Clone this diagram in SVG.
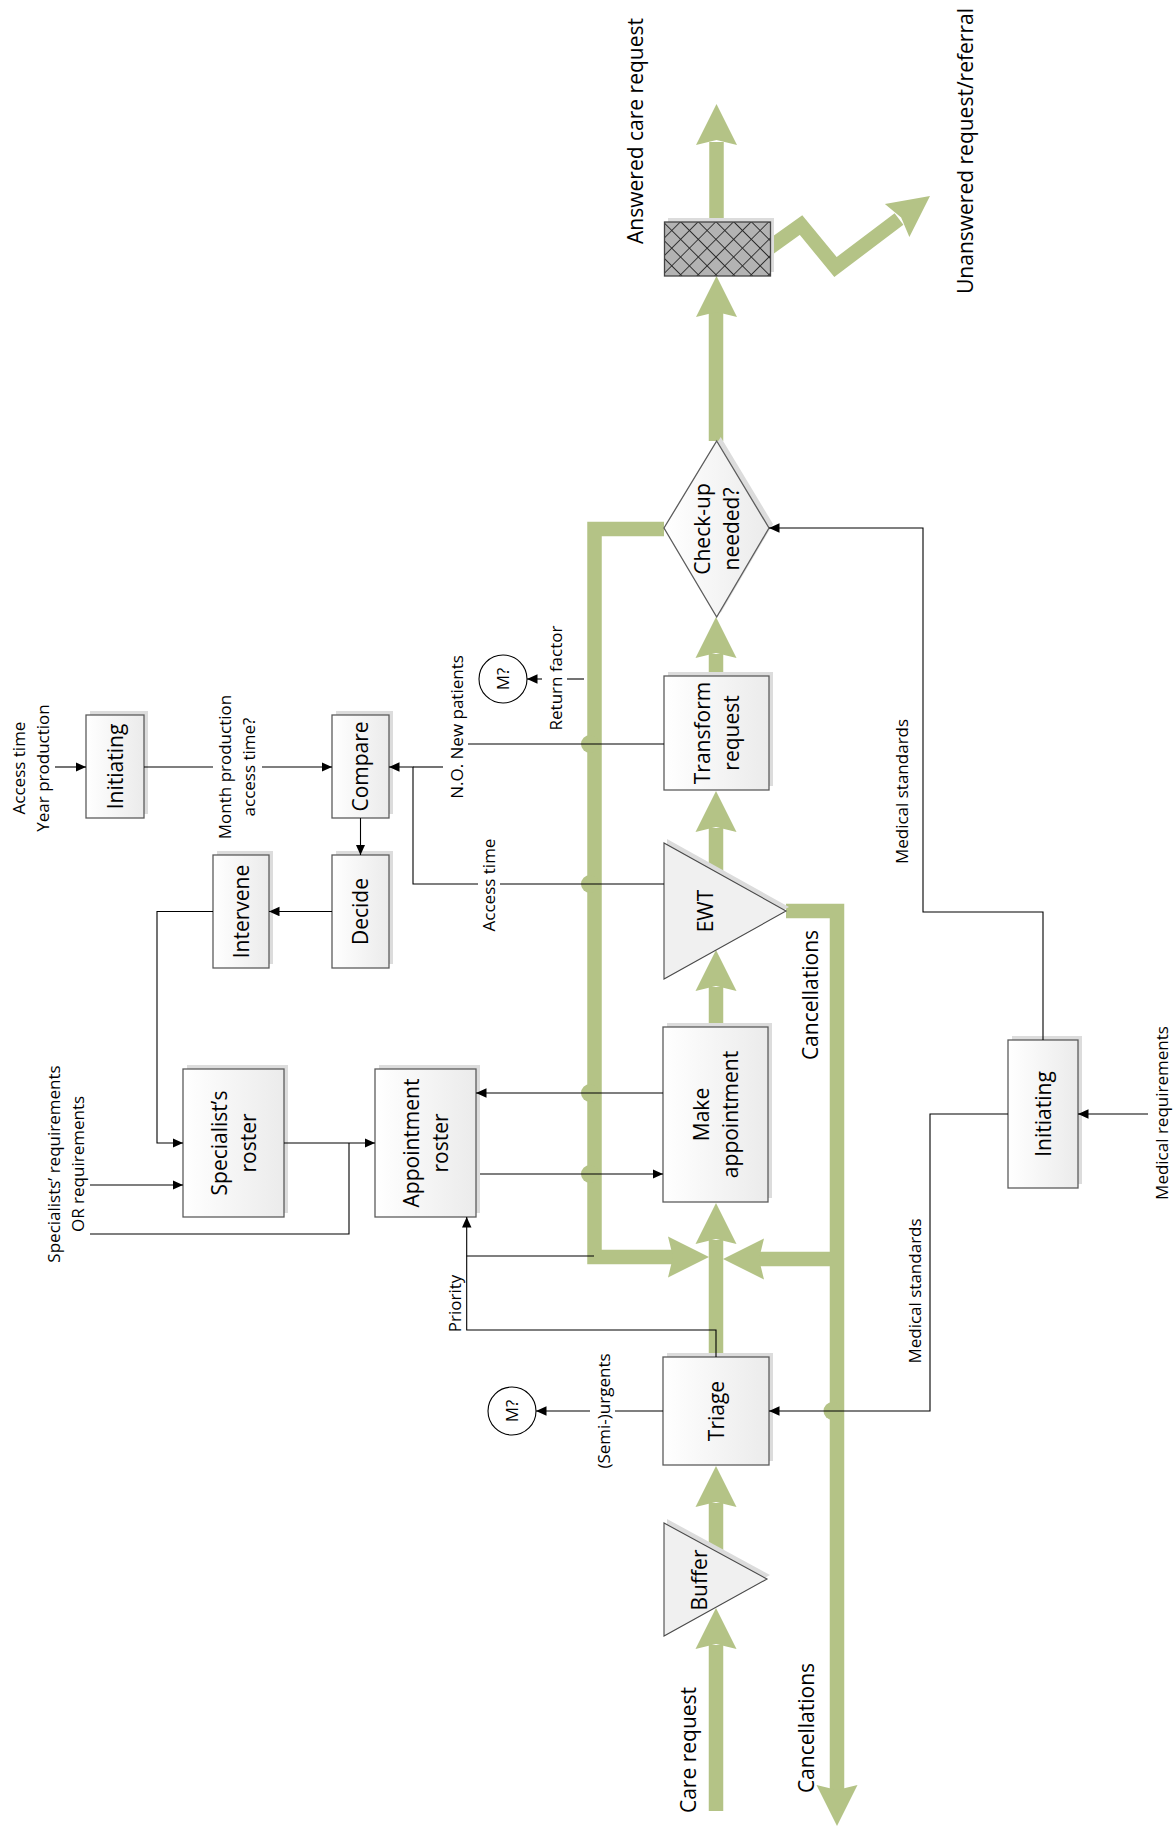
<svg xmlns="http://www.w3.org/2000/svg" width="1176" height="1827" viewBox="0 0 1176 1827">
  <style>
    .box { fill: url(#boxGrad); stroke: #5c5c5c; stroke-width: 1.3; }
    .tri { fill: #f0f0f0; stroke: #4a4a4a; stroke-width: 1.1; }
    .shadow { fill: #dcdcdc; }
    .t { font-family: "Open Sans", "Noto Sans", "DejaVu Sans", sans-serif; fill: #000; text-anchor: middle; }
    .big { font-size: 21px; }
    .sm { font-size: 17px; }
    .flow { fill: none; stroke: #b4c386; stroke-width: 14.5; stroke-linejoin: miter; }
    .head { fill: #b4c386; }
    .bump { fill: #b4c386; }
    .link { fill: none; stroke: #000; stroke-width: 1.1; }
    .arr { marker-end: url(#ah); }
    .circ { fill: #fff; stroke: #000; stroke-width: 1.1; }
  </style>
  <defs>
    <linearGradient id="boxGrad" x1="0" y1="0" x2="1" y2="0">
      <stop offset="0" stop-color="#ffffff"/>
      <stop offset="1" stop-color="#ebebeb"/>
    </linearGradient>
    <marker id="ah" markerUnits="userSpaceOnUse" markerWidth="11" markerHeight="10" refX="10.5" refY="4.75" orient="auto">
      <path d="M0,0 L10.5,4.75 L0,9.5 Z" fill="#000"/>
    </marker>
    <!-- wide flow arrowhead, pointing up, tip at origin -->
    <path id="ga" class="head" d="M0,0 L20.5,41 L0,36 L-20.5,41 Z"/>
    <pattern id="hatch" width="12.5" height="12.5" patternUnits="userSpaceOnUse" patternTransform="rotate(45)">
      <rect width="12.5" height="12.5" fill="#b3b3b3"/>
      <path d="M0,0 H12.5 M0,0 V12.5" stroke="#2b2b2b" stroke-width="1.8"/>
    </pattern>
  </defs>

  <!-- main flows -->
  <g id="flows">
    <!-- care request into buffer -->
    <path class="flow" d="M716,1811 V1645"/>
    <use href="#ga" transform="translate(716,1608)"/>
    <!-- buffer to triage -->
    <path class="flow" d="M716,1552 V1503"/>
    <use href="#ga" transform="translate(716,1466)"/>
    <!-- triage up to make appointment -->
    <path class="flow" d="M716,1357 V1240"/>
    <use href="#ga" transform="translate(716,1203)"/>
    <!-- check-up return loop -->
    <path class="flow" d="M664,529 H594.5 V1257 H690"/>
    <use href="#ga" transform="translate(709,1257) rotate(90)"/>
    <!-- cancellations out of EWT -->
    <path class="flow" d="M786,911 H837 V1792"/>
    <use href="#ga" transform="translate(837,1826) rotate(180)"/>
    <path class="flow" d="M837,1259 H757"/>
    <use href="#ga" transform="translate(723,1259) rotate(-90)"/>
    <!-- make appointment to EWT -->
    <path class="flow" d="M716,1027 V987"/>
    <use href="#ga" transform="translate(716,950)"/>
    <!-- EWT to transform -->
    <path class="flow" d="M716,872 V828"/>
    <use href="#ga" transform="translate(716,791)"/>
    <!-- transform to check-up -->
    <path class="flow" d="M716,676 V654"/>
    <use href="#ga" transform="translate(716,617)"/>
    <!-- check-up to outcome -->
    <path class="flow" d="M716,441 V312"/>
    <use href="#ga" transform="translate(716.5,276)"/>
    <path class="flow" d="M716.5,222 V142"/>
    <use href="#ga" transform="translate(716.5,104)"/>
    <!-- unanswered zigzag -->
    <path class="flow" d="M769,248 L801,225 L835.5,267 L899,219"/>
    <use href="#ga" transform="translate(930,196) rotate(53.3)"/>
    <!-- line jumps -->
    <circle class="bump" cx="590" cy="744" r="9"/>
    <circle class="bump" cx="590" cy="884" r="9"/>
    <circle class="bump" cx="590" cy="1093" r="9"/>
    <circle class="bump" cx="590" cy="1174" r="9"/>
    <circle class="bump" cx="832.5" cy="1411" r="9"/>
  </g>

  <!-- nodes -->
  <g id="initiating-top">
    <rect class="shadow" x="90" y="711" width="58" height="103"/>
    <rect class="box" x="86" y="715" width="58" height="103"/>
    <text class="t big" transform="translate(0,766.5) rotate(-90)"><tspan x="0" y="122.5">Initiating</tspan></text>
  </g>
  <g id="compare">
    <rect class="shadow" x="336" y="711" width="57" height="103"/>
    <rect class="box" x="332" y="715" width="57" height="103"/>
    <text class="t big" transform="translate(0,766.5) rotate(-90)"><tspan x="0" y="368">Compare</tspan></text>
  </g>
  <g id="decide">
    <rect class="shadow" x="336" y="851" width="57" height="113"/>
    <rect class="box" x="332" y="855" width="57" height="113"/>
    <text class="t big" transform="translate(0,911.5) rotate(-90)"><tspan x="0" y="368">Decide</tspan></text>
  </g>
  <g id="intervene">
    <rect class="shadow" x="217" y="851" width="56" height="113"/>
    <rect class="box" x="213" y="855" width="56" height="113"/>
    <text class="t big" transform="translate(0,911.5) rotate(-90)"><tspan x="0" y="248.5">Intervene</tspan></text>
  </g>
  <g id="specialists-roster">
    <rect class="shadow" x="187" y="1065" width="101" height="148"/>
    <rect class="box" x="183" y="1069" width="101" height="148"/>
    <text class="t big" transform="translate(0,1143) rotate(-90)"><tspan x="0" y="226.5">Specialist’s</tspan><tspan x="0" y="255.5">roster</tspan></text>
  </g>
  <g id="appointment-roster">
    <rect class="shadow" x="379" y="1065" width="101" height="148"/>
    <rect class="box" x="375" y="1069" width="101" height="148"/>
    <text class="t big" transform="translate(0,1143) rotate(-90)"><tspan x="0" y="418.5">Appointment</tspan><tspan x="0" y="447.5">roster</tspan></text>
  </g>
  <g id="make-appointment">
    <rect class="shadow" x="667" y="1023" width="105" height="175"/>
    <rect class="box" x="663" y="1027" width="105" height="175"/>
    <text class="t big" transform="translate(0,1114.5) rotate(-90)"><tspan x="0" y="708.5">Make</tspan><tspan x="0" y="737.5">appointment</tspan></text>
  </g>
  <g id="ewt">
    <polygon class="shadow" points="667,839 667,975 789,907"/>
    <polygon class="tri" points="664,843 664,979 786,911"/>
    <text class="t big" transform="translate(0,911) rotate(-90)"><tspan x="0" y="712.5">EWT</tspan></text>
  </g>
  <g id="transform-request">
    <rect class="shadow" x="668" y="672" width="105" height="114"/>
    <rect class="box" x="664" y="676" width="105" height="114"/>
    <text class="t big" transform="translate(0,733) rotate(-90)"><tspan x="0" y="709.5">Transform</tspan><tspan x="0" y="738.5">request</tspan></text>
  </g>
  <g id="check-up">
    <polygon class="shadow" points="720.7,437 773,524 720.7,613 668,524"/>
    <polygon class="box" points="716.7,441 769,528 716.7,617 664,528"/>
    <text class="t big" transform="translate(0,529) rotate(-90)"><tspan x="0" y="709.5">Check-up</tspan><tspan x="0" y="738.5">needed?</tspan></text>
  </g>
  <g id="outcome-store">
    <rect class="shadow" x="668" y="218" width="106" height="54"/>
    <rect x="664.5" y="222" width="106" height="54" fill="url(#hatch)" stroke="#444" stroke-width="1.3"/>
  </g>
  <g id="triage">
    <rect class="shadow" x="667" y="1353" width="106" height="108"/>
    <rect class="box" x="663" y="1357" width="106" height="108"/>
    <text class="t big" transform="translate(0,1411) rotate(-90)"><tspan x="0" y="723.5">Triage</tspan></text>
  </g>
  <g id="buffer">
    <polygon class="shadow" points="667,1519 667,1632 770,1575"/>
    <polygon class="tri" points="664,1523 664,1636 767,1579"/>
    <text class="t big" transform="translate(0,1580) rotate(-90)"><tspan x="0" y="706.5">Buffer</tspan></text>
  </g>
  <g id="initiating-bottom">
    <rect class="shadow" x="1012" y="1036" width="70" height="148"/>
    <rect class="box" x="1008" y="1040" width="70" height="148"/>
    <text class="t big" transform="translate(0,1114) rotate(-90)"><tspan x="0" y="1050.5">Initiating</tspan></text>
  </g>
  <g id="measure-top">
    <circle class="circ" cx="503" cy="679" r="24"/>
    <text class="t sm" transform="translate(0,679) rotate(-90)"><tspan x="0" y="509">M?</tspan></text>
  </g>
  <g id="measure-bottom">
    <circle class="circ" cx="512" cy="1411" r="24"/>
    <text class="t sm" transform="translate(0,1411) rotate(-90)"><tspan x="0" y="518">M?</tspan></text>
  </g>

  <!-- control and information connectors -->
  <g id="connectors">
    <path class="link arr" d="M55,767 H86"/>
    <path class="link" d="M144,767 H213"/>
    <path class="link arr" d="M262,767 H332"/>
    <path class="link arr" d="M360.5,818 V855"/>
    <path class="link arr" d="M332,911.5 H269"/>
    <path class="link arr" d="M213,911.5 H157 V1143 H183"/>
    <path class="link arr" d="M90,1185 H183"/>
    <path class="link" d="M90,1234 H349 V1143"/>
    <path class="link arr" d="M284,1143 H375"/>
    <path class="link arr" d="M663,1093 H476"/>
    <path class="link arr" d="M480,1174 H663"/>
    <path class="link arr" d="M716,1357 V1330 H466.7 V1217"/>
    <path class="link" d="M594,1256 H466.7"/>
    <path class="link" d="M663,1411 H615"/>
    <path class="link arr" d="M590,1411 H536"/>
    <path class="link arr" d="M1008,1114 H930 V1411 H769"/>
    <path class="link arr" d="M1148,1114 H1078"/>
    <path class="link arr" d="M1043,1040 V912 H923 V528 H769"/>
    <path class="link" d="M664,884 H500"/>
    <path class="link arr" d="M478,884 H413 V767 H389"/>
    <path class="link" d="M664,744 H468"/>
    <path class="link" d="M443,767 H413"/>
    <path class="link" d="M584,679 H567"/>
    <path class="link arr" d="M542,679 H527"/>
  </g>

  <!-- labels -->
  <g id="labels">
    <text class="t sm" transform="translate(0,768) rotate(-90)"><tspan x="0" y="25">Access time</tspan><tspan x="0" y="49">Year production</tspan></text>
    <text class="t sm" transform="translate(0,767) rotate(-90)"><tspan x="0" y="231">Month production</tspan><tspan x="0" y="255">access time?</tspan></text>
    <text class="t sm" transform="translate(0,1164) rotate(-90)"><tspan x="0" y="60">Specialists’ requirements</tspan><tspan x="0" y="84">OR requirements</tspan></text>
    <text class="t sm" transform="translate(0,727) rotate(-90)"><tspan x="0" y="463">N.O. New patients</tspan></text>
    <text class="t sm" transform="translate(0,678) rotate(-90)"><tspan x="0" y="562">Return factor</tspan></text>
    <text class="t sm" transform="translate(0,885) rotate(-90)"><tspan x="0" y="495">Access time</tspan></text>
    <text class="t sm" transform="translate(0,1303.5) rotate(-90)"><tspan x="0" y="461">Priority</tspan></text>
    <text class="t sm" transform="translate(0,1411) rotate(-90)"><tspan x="0" y="610">(Semi-)urgents</tspan></text>
    <text class="t sm" transform="translate(0,791.5) rotate(-90)"><tspan x="0" y="908">Medical standards</tspan></text>
    <text class="t sm" transform="translate(0,1291) rotate(-90)"><tspan x="0" y="921">Medical standards</tspan></text>
    <text class="t sm" transform="translate(0,1113) rotate(-90)"><tspan x="0" y="1168">Medical requirements</tspan></text>
    <text class="t big" transform="translate(0,995) rotate(-90)"><tspan x="0" y="817.5">Cancellations</tspan></text>
    <text class="t big" transform="translate(0,1728) rotate(-90)"><tspan x="0" y="814">Cancellations</tspan></text>
    <text class="t big" transform="translate(0,1750) rotate(-90)"><tspan x="0" y="695.5">Care request</tspan></text>
    <text class="t big" transform="translate(0,131) rotate(-90)"><tspan x="0" y="643">Answered care request</tspan></text>
    <text class="t big" transform="translate(0,151) rotate(-90)"><tspan x="0" y="973">Unanswered request/referral</tspan></text>
  </g>
</svg>
